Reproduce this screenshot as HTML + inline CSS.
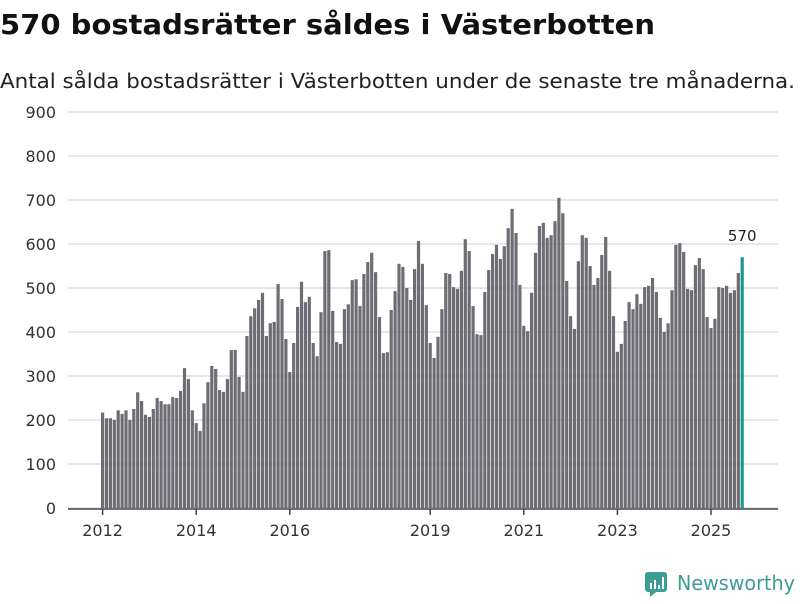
<!DOCTYPE html>
<html><head><meta charset="utf-8"><style>
body{margin:0;width:800px;height:600px;background:#fff;font-family:"DejaVu Sans","Liberation Sans",sans-serif;overflow:hidden}
</style></head><body>
<svg width="800" height="600" xmlns="http://www.w3.org/2000/svg" font-family="DejaVu Sans, Liberation Sans, sans-serif">
<text x="0" y="34" font-size="28" font-weight="bold" fill="#111" textLength="655" lengthAdjust="spacingAndGlyphs">570 bostadsrätter såldes i Västerbotten</text>
<text x="0" y="88" font-size="20" fill="#222" textLength="795" lengthAdjust="spacingAndGlyphs">Antal sålda bostadsrätter i Västerbotten under de senaste tre månaderna.</text>
<g id="grid"></g><g id="bars"></g><g id="xaxis"></g>
<g>
<rect x="645" y="572" width="22" height="20" rx="3" fill="#3d9c94"/>
<polygon points="650,592 656,592 650,597" fill="#3d9c94"/>
<rect x="650" y="583" width="2" height="6" fill="#fff"/><rect x="654" y="580" width="2" height="9" fill="#fff"/><rect x="658" y="585" width="2" height="4" fill="#fff"/><rect x="662" y="577" width="2" height="12" fill="#fff"/>
<text x="677" y="590" font-size="20" fill="#3d9c94" textLength="118" lengthAdjust="spacingAndGlyphs">Newsworthy</text>
</g>
</svg>
<script>
const startYear = 2012;
const values = [217,204,204,200,222,214,222,200,225,263,243,212,
207,225,250,243,236,236,252,250,266,318,293,222,
193,175,238,286,323,316,268,264,293,359,359,298,
264,391,436,454,473,489,391,420,423,509,475,384,
309,375,457,514,468,480,375,345,445,584,586,448,
377,373,452,463,518,520,459,532,559,580,536,434,
352,354,450,493,555,548,500,473,543,607,555,461,
375,341,389,452,534,532,502,498,539,611,584,459,
395,393,491,541,577,598,566,595,636,680,625,507,
414,402,489,580,641,648,614,620,652,705,670,516,
436,407,561,620,614,550,507,523,575,616,539,436,
355,373,425,468,452,486,464,502,505,523,491,432,
400,420,495,598,602,582,498,495,552,568,543,434,
409,430,502,500,505,489,495,534,570];
const yTicks = [0,100,200,300,400,500,600,700,800,900];
const xTickYears = [2012,2014,2016,2019,2021,2023,2025];
const NS="http://www.w3.org/2000/svg";
const y = v => 508 - v*0.44;
const x = i => 101 + i*3.9;
const xYear = yr => x((yr-startYear)*12) + 1.6;
const grid=document.getElementById('grid');
yTicks.forEach(t=>{
  const l=document.createElementNS(NS,'line');
  l.setAttribute('x1',68);l.setAttribute('x2',778);l.setAttribute('y1',y(t));l.setAttribute('y2',y(t));
  l.setAttribute('stroke','#ddd');l.setAttribute('stroke-width',1.5);
  
  
  grid.appendChild(l);
  const tx=document.createElementNS(NS,'text');
  tx.setAttribute('x',56);tx.setAttribute('y',y(t)+6);tx.setAttribute('text-anchor','end');
  tx.setAttribute('font-size',16);tx.setAttribute('fill','#333');tx.textContent=t;
  
  
  grid.appendChild(tx);
});
const bars=document.getElementById('bars');
values.forEach((v,i)=>{
  const r=document.createElementNS(NS,'rect');
  r.setAttribute('x',x(i));r.setAttribute('width',3.2);
  r.setAttribute('y',y(v));r.setAttribute('height',508-y(v));
  const last=i===values.length-1;
  r.setAttribute('fill',last?'#1a9a8e':'#6e6d74');
  
  
  bars.appendChild(r);
  if(last){
    const t=document.createElementNS(NS,'text');
    t.setAttribute('x',x(i)+1.6);t.setAttribute('y',y(v)-16);t.setAttribute('text-anchor','middle');
    t.setAttribute('font-size',15);t.setAttribute('fill','#222');t.textContent=v;
    
    
    bars.appendChild(t);
  }
});
const xa=document.getElementById('xaxis');
const ax=document.createElementNS(NS,'line');
ax.setAttribute('x1',68);ax.setAttribute('x2',778);ax.setAttribute('y1',509);ax.setAttribute('y2',509);
ax.setAttribute('stroke','#444');ax.setAttribute('stroke-width',1.5);


xa.appendChild(ax);
xTickYears.forEach(yr=>{
  const px=xYear(yr);
  const tk=document.createElementNS(NS,'line');
  tk.setAttribute('x1',px);tk.setAttribute('x2',px);tk.setAttribute('y1',509);tk.setAttribute('y2',515);
  tk.setAttribute('stroke','#444');tk.setAttribute('stroke-width',1.5);
  
  
  xa.appendChild(tk);
  const t=document.createElementNS(NS,'text');
  t.setAttribute('x',px);t.setAttribute('y',536);t.setAttribute('text-anchor','middle');
  t.setAttribute('font-size',16);t.setAttribute('fill','#333');t.textContent=yr;
  
  
  xa.appendChild(t);
});
</script>
</body></html>
